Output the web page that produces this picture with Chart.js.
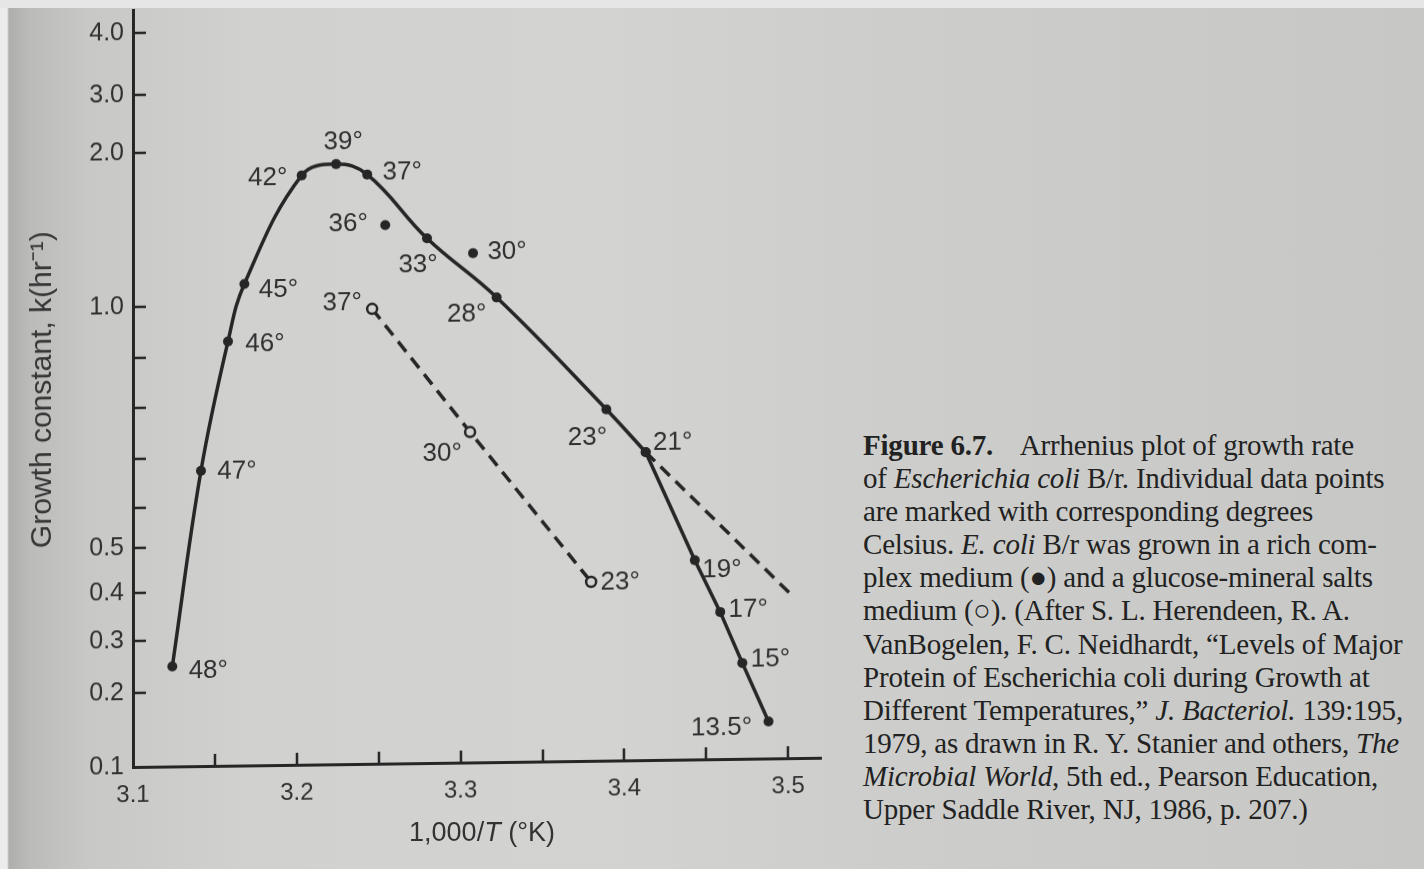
<!DOCTYPE html>
<html>
<head>
<meta charset="utf-8">
<script src="https://cdn.jsdelivr.net/npm/chart.js"></script>
<style>
  html, body { margin: 0; padding: 0; }
  body {
    width: 1424px; height: 869px; overflow: hidden; position: relative;
    background: linear-gradient(to right, #ececec 0px, #ececec 7px, #aeafad 9px, #bbbcba 30px, #c8c9c7 90px, #d1d2d0 250px, #d3d4d2 600px, #cdcecc 900px, #c7c8c6 1424px);
  }
  #topband { position: absolute; left: 0; top: 0; width: 1424px; height: 8px; background: #e6e6e6; }
  #plot { position: absolute; left: 0; top: 0; width: 850px; height: 869px;
          transform: skewY(-0.77deg); transform-origin: 133px 767px; }
  #xtitle { position: absolute; left: 382px; width: 200px; top: 817px; text-align: center;
            font: 27px/30px "Liberation Sans", Arial, sans-serif; color: #333; white-space: nowrap; }
  #caption { position: absolute; left: 863px; top: 429px; font: 29px/33.1px "Liberation Serif", "Times New Roman", serif;
             color: #222; white-space: nowrap; letter-spacing: -0.2px; }
</style>
</head>
<body>
<div id="topband"></div>
<div id="plot"><canvas id="c" width="850" height="869"></canvas></div>
<div id="xtitle">1,000/<i>T</i> (°K)</div>
<div id="caption">
<div><b>Figure 6.7.</b>&nbsp;&nbsp;&nbsp; Arrhenius plot of growth rate</div>
<div>of <i>Escherichia coli</i> B/r. Individual data points</div>
<div>are marked with corresponding degrees</div>
<div>Celsius. <i>E. coli</i> B/r was grown in a rich com-</div>
<div>plex medium (●) and a glucose-mineral salts</div>
<div>medium (○). (After S. L. Herendeen, R. A.</div>
<div>VanBogelen, F. C. Neidhardt, “Levels of Major</div>
<div>Protein of Escherichia coli during Growth at</div>
<div>Different Temperatures,” <i>J. Bacteriol.</i> 139:195,</div>
<div>1979, as drawn in R. Y. Stanier and others, <i>The</i></div>
<div><i>Microbial World</i>, 5th ed., Pearson Education,</div>
<div>Upper Saddle River, NJ, 1986, p. 207.)</div>
</div>
<script>
// ---------------- data ----------------
// Rich complex medium (filled dots) on the drawn curve
const richTemps = ['48°','47°','46°','45°','42°','39°','37°','33°','28°','23°','21°','19°','17°','15°','13.5°'];
const richInvT  = [3.124, 3.1415, 3.158, 3.168, 3.203, 3.224, 3.243, 3.2795, 3.322, 3.389, 3.413, 3.443, 3.4585, 3.472, 3.488];
const richK     = [0.25, 0.674, 0.93, 1.14, 1.84, 1.91, 1.84, 1.42, 1.03, 0.785, 0.70, 0.456, 0.344, 0.242, 0.15];
// Rich medium points off the curve
const richOffTemps = ['36°','30°'];
const richOffInvT  = [3.254, 3.3076];
const richOffK     = [1.51, 1.32];
// Glucose-mineral salts medium (open circles)
const glucoseTemps = ['37°','30°','23°'];
const glucoseInvT  = [3.246, 3.3058, 3.3797];
const glucoseK     = [0.99, 0.744, 0.411];
// Dashed extrapolation of the rich-medium line below 21°
const extrapInvT = [3.413, 3.501];
const extrapK    = [0.70, 0.381];
// Axis ticks
const xTickValues = [3.1, 3.15, 3.2, 3.25, 3.3, 3.35, 3.4, 3.45, 3.5];
const xTickLabels = ['3.1', '', '3.2', '', '3.3', '', '3.4', '', '3.5'];
const yTickValues = [0.1, 0.2, 0.3, 0.4, 0.5, 0.6, 0.7, 0.8, 0.9, 1.0, 2.0, 3.0, 4.0];
const yTickLabels = ['0.1', '0.2', '0.3', '0.4', '0.5', '', '', '', '', '1.0', '2.0', '3.0', '4.0'];

// ---------------- styling ----------------
const ink = '#262626';
const paper = '#d2d3d1';
const textInk = '#303030';

// The printed k axis is not uniformly spaced: a piecewise-linear value axis
class BreakScale extends Chart.LinearScale {
  determineDataLimits() { this.min = this.options.min; this.max = this.options.max; }
  buildTicks() { return yTickValues.map(v => ({ value: v })); }
  _toDecimal(v) {
    const vals = this.options.breakValues, fr = this.options.breakFractions;
    let i = 0;
    while (i < vals.length - 2 && v > vals[i + 1]) i++;
    return fr[i] + (v - vals[i]) / (vals[i + 1] - vals[i]) * (fr[i + 1] - fr[i]);
  }
  getPixelForValue(v) {
    if (v === null || v === undefined) return NaN;
    return this.getPixelForDecimal(this._toDecimal(v));
  }
  getValueForPixel(p) {
    const d = this.getDecimalForPixel(p);
    const vals = this.options.breakValues, fr = this.options.breakFractions;
    let i = 0;
    while (i < fr.length - 2 && d > fr[i + 1]) i++;
    return vals[i] + (d - fr[i]) / (fr[i + 1] - fr[i]) * (vals[i + 1] - vals[i]);
  }
}
BreakScale.id = 'breaks';
Chart.register(BreakScale);

const pts = (xs, ys) => xs.map((v, i) => ({ x: v, y: ys[i] }));
const brk = richTemps.indexOf('21°');

// label placement relative to each point (pixels)
const labelOffsets = {
  rich: [[36,5],[36,1],[37,3],[34,6],[-34,2],[7,-22],[35,-2],[-9,27],[-30,16],[-19,28],[27,-9],[27,10],[28,-2],[28,-3],[-47,6]],
  richOff: [[-37,-2],[34,-1]],
  glucose: [[-30,-6],[-28,21],[29,1]]
};
const labelGroups = [
  { texts: richTemps, xs: richInvT, ys: richK, offs: labelOffsets.rich },
  { texts: richOffTemps, xs: richOffInvT, ys: richOffK, offs: labelOffsets.richOff },
  { texts: glucoseTemps, xs: glucoseInvT, ys: glucoseK, offs: labelOffsets.glucose }
];

const pointLabels = {
  id: 'pointLabels',
  afterDatasetsDraw(chart) {
    const { ctx, scales: { x, y } } = chart;
    ctx.save();
    ctx.font = '26px "Liberation Sans", Arial, sans-serif';
    ctx.fillStyle = textInk;
    ctx.textAlign = 'center';
    ctx.textBaseline = 'middle';
    labelGroups.forEach(g => g.texts.forEach((t, i) => {
      const px = x.getPixelForValue(g.xs[i]);
      const py = y.getPixelForValue(g.ys[i]);
      ctx.fillText(t, px + g.offs[i][0], py + g.offs[i][1]);
    }));
    ctx.restore();
  }
};

const innerTicks = {
  id: 'innerTicks',
  afterDraw(chart) {
    const { ctx, chartArea: a, scales: { x, y } } = chart;
    ctx.save();
    ctx.strokeStyle = ink;
    ctx.lineWidth = 2.5;
    ctx.beginPath();
    y.ticks.forEach((t, i) => {
      const py = Math.round(y.getPixelForTick(i));
      if (Math.abs(py - a.bottom) < 2) return;
      ctx.moveTo(a.left, py); ctx.lineTo(a.left + 13, py);
    });
    x.ticks.forEach((t, i) => {
      const px = Math.round(x.getPixelForTick(i));
      if (Math.abs(px - a.left) < 2) return;
      ctx.moveTo(px, a.bottom); ctx.lineTo(px, a.bottom - 12);
    });
    ctx.stroke();
    ctx.restore();
  }
};

const solid = { borderColor: ink, backgroundColor: ink, borderWidth: 3.5, pointRadius: 5, pointBorderWidth: 0,
                pointBackgroundColor: ink };

new Chart(document.getElementById('c'), {
  type: 'line',
  data: {
    datasets: [
      Object.assign({ label: 'Rich complex medium', data: pts(richInvT.slice(0, brk + 1), richK.slice(0, brk + 1)), tension: 0.4 }, solid),
      Object.assign({ label: 'Rich complex medium (below 21°)', data: pts(richInvT.slice(brk), richK.slice(brk)), tension: 0 }, solid),
      { label: 'Extrapolation', data: pts(extrapInvT, extrapK), borderColor: ink, borderWidth: 3.5, borderDash: [13, 8], pointRadius: 0, tension: 0 },
      Object.assign({ label: 'Rich medium, off curve', data: pts(richOffInvT, richOffK), showLine: false }, solid),
      { label: 'Glucose-mineral salts medium', data: pts(glucoseInvT, glucoseK), borderColor: ink, borderWidth: 3.5,
        borderDash: [13, 8], tension: 0, pointRadius: 5, pointBorderWidth: 2.5, pointBorderColor: ink, pointBackgroundColor: paper }
    ]
  },
  options: {
    responsive: false,
    animation: false,
    events: [],
    layout: { padding: { left: 0, top: 10, right: 29, bottom: 0 } },
    plugins: { legend: { display: false }, tooltip: { enabled: false } },
    scales: {
      x: {
        type: 'linear', min: 3.1, max: 3.52,
        afterBuildTicks: s => { s.ticks = xTickValues.map(v => ({ value: v })); },
        afterFit: s => { s.height = 102; s.paddingLeft = 0; s.paddingRight = 0; },
        grid: { display: false, drawTicks: false },
        border: { display: true, color: ink, width: 3 },
        ticks: { autoSkip: false, maxRotation: 0, padding: 14, color: textInk,
                 font: { family: 'Liberation Sans', size: 24 },
                 callback: (v, i) => xTickLabels[i] }
      },
      y: {
        type: 'breaks', min: 0.1, max: 4.37,
        breakValues:    [0.1, 0.2, 0.3, 0.4, 0.5, 0.6, 0.7, 0.8, 0.9, 1.0, 2.0, 3.0, 4.0, 4.37],
        breakFractions: [0, 0.0978, 0.1664, 0.2299, 0.2893, 0.3421, 0.4069, 0.4742, 0.5403, 0.6077, 0.8111, 0.8877, 0.9696, 1],
        afterFit: s => { s.width = 133; s.paddingTop = 0; s.paddingBottom = 0; },
        grid: { display: false, drawTicks: false },
        border: { display: true, color: ink, width: 3 },
        title: { display: true, text: 'Growth constant, k(hr⁻¹)', color: '#363636',
                 font: { family: 'Liberation Sans', size: 30 }, padding: { top: 25, bottom: 0 } },
        ticks: { autoSkip: false, padding: 9, color: textInk,
                 font: { family: 'Liberation Sans', size: 25 },
                 callback: (v, i) => yTickLabels[i] }
      }
    }
  },
  plugins: [innerTicks, pointLabels]
});
</script>
</body>
</html>
